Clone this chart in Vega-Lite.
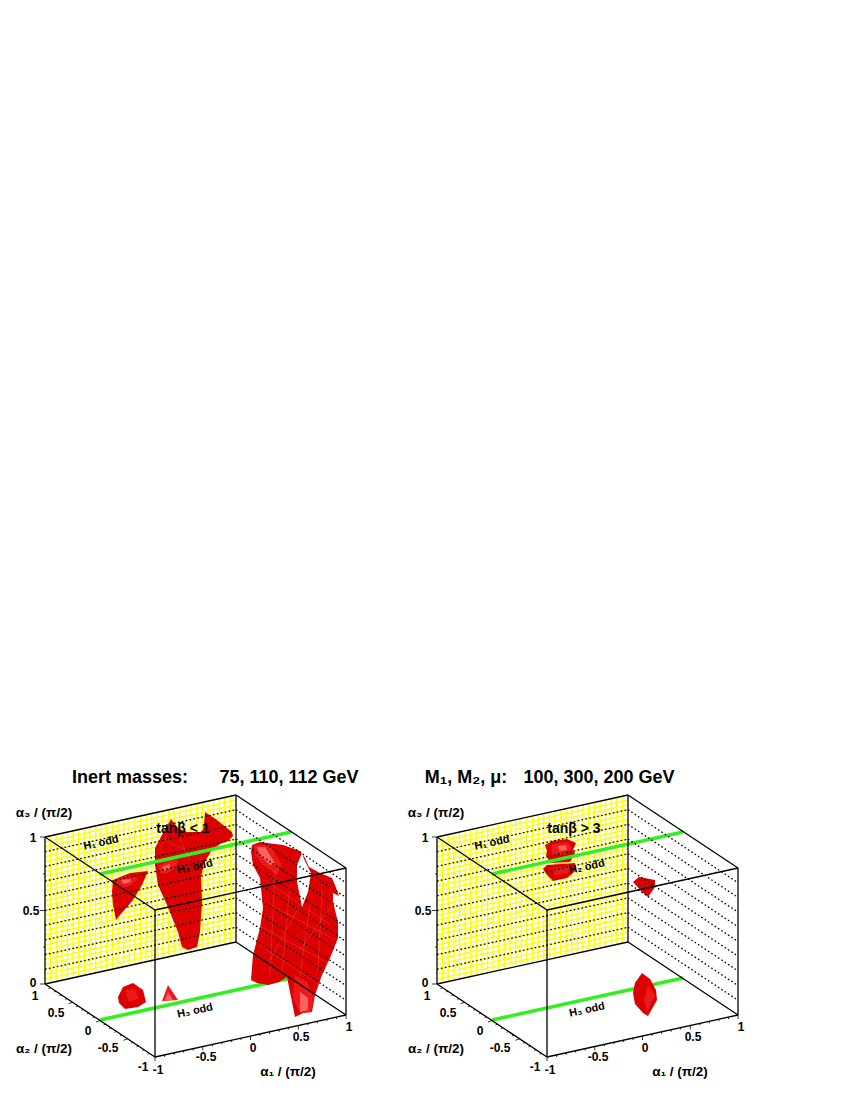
{"$schema":"https://vega.github.io/schema/vega-lite/v6.json","padding":0,"spacing":0,"bounds":"flush","background":"white","config":{"view":{"stroke":null},"concat":{"spacing":0},"text":{"font":"Liberation Sans","fontWeight":"bold"}},
"datasets":{
"yellow":[
{"x":45,"y":979.1,"x2":236,"y2":937.1},{"x":45,"y":974.2,"x2":236,"y2":932.2},{"x":45,"y":969.3,"x2":236,"y2":927.3},{"x":45,"y":964.4,"x2":236,"y2":922.4},{"x":45,"y":959.5,"x2":236,"y2":917.5},{"x":45,"y":954.6,"x2":236,"y2":912.6},{"x":45,"y":949.7,"x2":236,"y2":907.7},{"x":45,"y":944.8,"x2":236,"y2":902.8},{"x":45,"y":939.9,"x2":236,"y2":897.9},{"x":45,"y":935,"x2":236,"y2":893},{"x":45,"y":930.1,"x2":236,"y2":888.1},{"x":45,"y":925.2,"x2":236,"y2":883.2},{"x":45,"y":920.3,"x2":236,"y2":878.3},{"x":45,"y":915.4,"x2":236,"y2":873.4},{"x":45,"y":910.5,"x2":236,"y2":868.5},{"x":45,"y":905.6,"x2":236,"y2":863.6},{"x":45,"y":900.7,"x2":236,"y2":858.7},{"x":45,"y":895.8,"x2":236,"y2":853.8},{"x":45,"y":890.9,"x2":236,"y2":848.9},{"x":45,"y":886,"x2":236,"y2":844},{"x":45,"y":881.1,"x2":236,"y2":839.1},{"x":45,"y":876.2,"x2":236,"y2":834.2},{"x":45,"y":871.3,"x2":236,"y2":829.3},{"x":45,"y":866.4,"x2":236,"y2":824.4},{"x":45,"y":861.5,"x2":236,"y2":819.5},{"x":45,"y":856.6,"x2":236,"y2":814.6},{"x":45,"y":851.7,"x2":236,"y2":809.7},{"x":45,"y":846.8,"x2":236,"y2":804.8},{"x":45,"y":841.9,"x2":236,"y2":799.9},
{"x":50.6,"y":982.8,"x2":50.6,"y2":835.8},{"x":56.2,"y":981.5,"x2":56.2,"y2":834.5},{"x":61.9,"y":980.3,"x2":61.9,"y2":833.3},{"x":67.5,"y":979.1,"x2":67.5,"y2":832.1},{"x":73.1,"y":977.8,"x2":73.1,"y2":830.8},{"x":78.7,"y":976.6,"x2":78.7,"y2":829.6},{"x":84.3,"y":975.4,"x2":84.3,"y2":828.4},{"x":89.9,"y":974.1,"x2":89.9,"y2":827.1},{"x":95.6,"y":972.9,"x2":95.6,"y2":825.9},{"x":101.2,"y":971.6,"x2":101.2,"y2":824.6},{"x":106.8,"y":970.4,"x2":106.8,"y2":823.4},{"x":112.4,"y":969.2,"x2":112.4,"y2":822.2},{"x":118,"y":967.9,"x2":118,"y2":820.9},{"x":123.7,"y":966.7,"x2":123.7,"y2":819.7},{"x":129.3,"y":965.5,"x2":129.3,"y2":818.5},{"x":134.9,"y":964.2,"x2":134.9,"y2":817.2},{"x":140.5,"y":963,"x2":140.5,"y2":816},{"x":146.1,"y":961.8,"x2":146.1,"y2":814.8},{"x":151.7,"y":960.5,"x2":151.7,"y2":813.5},{"x":157.4,"y":959.3,"x2":157.4,"y2":812.3},{"x":163,"y":958.1,"x2":163,"y2":811.1},{"x":168.6,"y":956.8,"x2":168.6,"y2":809.8},{"x":174.2,"y":955.6,"x2":174.2,"y2":808.6},{"x":179.8,"y":954.4,"x2":179.8,"y2":807.4},{"x":185.5,"y":953.1,"x2":185.5,"y2":806.1},{"x":191.1,"y":951.9,"x2":191.1,"y2":804.9},{"x":196.7,"y":950.7,"x2":196.7,"y2":803.7},{"x":202.3,"y":949.4,"x2":202.3,"y2":802.4},{"x":207.9,"y":948.2,"x2":207.9,"y2":801.2},{"x":213.5,"y":947,"x2":213.5,"y2":800},{"x":219.2,"y":945.7,"x2":219.2,"y2":798.7},{"x":224.8,"y":944.5,"x2":224.8,"y2":797.5},{"x":230.4,"y":943.2,"x2":230.4,"y2":796.2}
],
"dotted":[
{"x":45,"y":969.3,"x2":236,"y2":927.3},{"x":45,"y":954.6,"x2":236,"y2":912.6},{"x":45,"y":939.9,"x2":236,"y2":897.9},{"x":45,"y":925.2,"x2":236,"y2":883.2},{"x":45,"y":910.5,"x2":236,"y2":868.5},{"x":45,"y":895.8,"x2":236,"y2":853.8},{"x":45,"y":881.1,"x2":236,"y2":839.1},{"x":45,"y":866.4,"x2":236,"y2":824.4},{"x":45,"y":851.7,"x2":236,"y2":809.7},
{"x":236,"y":927.3,"x2":346,"y2":1000.3},{"x":236,"y":912.6,"x2":346,"y2":985.6},{"x":236,"y":897.9,"x2":346,"y2":970.9},{"x":236,"y":883.2,"x2":346,"y2":956.2},{"x":236,"y":868.5,"x2":346,"y2":941.5},{"x":236,"y":853.8,"x2":346,"y2":926.8},{"x":236,"y":839.1,"x2":346,"y2":912.1},{"x":236,"y":824.4,"x2":346,"y2":897.4},{"x":236,"y":809.7,"x2":346,"y2":882.7}
],
"frame":[
{"x":45,"y":837,"x2":236,"y2":795},{"x":236,"y":795,"x2":346,"y2":868},{"x":346,"y":868,"x2":155,"y2":910},{"x":155,"y":910,"x2":45,"y2":837},
{"x":45,"y":984,"x2":236,"y2":942},{"x":236,"y":942,"x2":346,"y2":1015},{"x":346,"y":1015,"x2":155,"y2":1057},{"x":155,"y":1057,"x2":45,"y2":984},
{"x":45,"y":984,"x2":45,"y2":837},{"x":236,"y":942,"x2":236,"y2":795},{"x":346,"y":1015,"x2":346,"y2":868},{"x":155,"y":1057,"x2":155,"y2":910}
],
"ticks":[
{"x":45,"y":984,"x2":40,"y2":984},{"x":45,"y":947,"x2":43,"y2":947},{"x":45,"y":910.5,"x2":40,"y2":910.5},{"x":45,"y":874,"x2":43,"y2":874},{"x":45,"y":837,"x2":40,"y2":837},
{"x":155,"y":1057,"x2":155,"y2":1061},{"x":164.6,"y":1054.9,"x2":164.6,"y2":1056.9},{"x":174.1,"y":1052.8,"x2":174.1,"y2":1054.8},{"x":183.7,"y":1050.7,"x2":183.7,"y2":1052.7},{"x":193.2,"y":1048.6,"x2":193.2,"y2":1050.6},{"x":202.8,"y":1046.5,"x2":202.8,"y2":1050.5},{"x":212.3,"y":1044.4,"x2":212.3,"y2":1046.4},{"x":221.9,"y":1042.3,"x2":221.9,"y2":1044.3},{"x":231.4,"y":1040.2,"x2":231.4,"y2":1042.2},{"x":241,"y":1038.1,"x2":241,"y2":1040.1},{"x":250.5,"y":1036,"x2":250.5,"y2":1040},{"x":260.1,"y":1033.9,"x2":260.1,"y2":1035.9},{"x":269.6,"y":1031.8,"x2":269.6,"y2":1033.8},{"x":279.2,"y":1029.7,"x2":279.2,"y2":1031.7},{"x":288.7,"y":1027.6,"x2":288.7,"y2":1029.6},{"x":298.3,"y":1025.5,"x2":298.3,"y2":1029.5},{"x":307.8,"y":1023.4,"x2":307.8,"y2":1025.4},{"x":317.4,"y":1021.3,"x2":317.4,"y2":1023.3},{"x":326.9,"y":1019.2,"x2":326.9,"y2":1021.2},{"x":336.5,"y":1017.1,"x2":336.5,"y2":1019.1},{"x":346,"y":1015,"x2":346,"y2":1019},
{"x":149.5,"y":1053.4,"x2":147.5,"y2":1054.1},{"x":144,"y":1049.7,"x2":142,"y2":1050.4},{"x":138.5,"y":1046.1,"x2":136.5,"y2":1046.8},{"x":133,"y":1042.4,"x2":131,"y2":1043.1},{"x":127.5,"y":1038.8,"x2":123.5,"y2":1040.3},{"x":122,"y":1035.1,"x2":120,"y2":1035.8},{"x":116.5,"y":1031.5,"x2":114.5,"y2":1032.2},{"x":111,"y":1027.8,"x2":109,"y2":1028.5},{"x":105.5,"y":1024.2,"x2":103.5,"y2":1024.9},{"x":100,"y":1020.5,"x2":96,"y2":1022},{"x":94.5,"y":1016.9,"x2":92.5,"y2":1017.6},{"x":89,"y":1013.2,"x2":87,"y2":1013.9},{"x":83.5,"y":1009.6,"x2":81.5,"y2":1010.3},{"x":78,"y":1005.9,"x2":76,"y2":1006.6},{"x":72.5,"y":1002.3,"x2":68.5,"y2":1003.8},{"x":67,"y":998.6,"x2":65,"y2":999.3},{"x":61.5,"y":995,"x2":59.5,"y2":995.7},{"x":56,"y":991.3,"x2":54,"y2":992},{"x":50.5,"y":987.7,"x2":48.5,"y2":988.4}
],
"green":[{"plane":"floor","x":100,"y":1020,"x2":291,"y2":978},{"plane":"mid","x":100,"y":874,"x2":291,"y2":832}],
"tickLabels":[
{"x":33,"y":838,"t":"1"},{"x":31,"y":911,"t":"0.5"},{"x":33,"y":983,"t":"0"},
{"x":35,"y":996,"t":"1"},{"x":56,"y":1013,"t":"0.5"},{"x":88,"y":1031,"t":"0"},{"x":108,"y":1048,"t":"-0.5"},{"x":143,"y":1067,"t":"-1"},
{"x":158,"y":1070,"t":"-1"},{"x":206,"y":1057,"t":"-0.5"},{"x":253,"y":1048,"t":"0"},{"x":301,"y":1037,"t":"0.5"},{"x":349,"y":1027,"t":"1"}],
"axisTitles":[{"x":44,"y":813,"t":"α₃ / (π/2)"},{"x":44,"y":1049,"t":"α₂ / (π/2)"},{"x":288,"y":1072,"t":"α₁ / (π/2)"}],
"blobsL":[
{"s":"w","c":"base","x":113,"y":880},{"s":"w","c":"base","x":130,"y":873},{"s":"w","c":"base","x":148,"y":871},{"s":"w","c":"base","x":142,"y":885},{"s":"w","c":"base","x":133,"y":900},{"s":"w","c":"base","x":120,"y":915},{"s":"w","c":"base","x":116,"y":920},{"s":"w","c":"base","x":113,"y":905},{"s":"w","c":"base","x":112,"y":892},
{"s":"m","c":"base","x":171,"y":819},{"s":"m","c":"base","x":178,"y":828},{"s":"m","c":"base","x":187,"y":832},{"s":"m","c":"base","x":202,"y":832},{"s":"m","c":"base","x":204,"y":825},{"s":"m","c":"base","x":205,"y":812},{"s":"m","c":"base","x":217,"y":820},{"s":"m","c":"base","x":232,"y":832},{"s":"m","c":"base","x":233,"y":836},{"s":"m","c":"base","x":228,"y":841},{"s":"m","c":"base","x":220,"y":844},{"s":"m","c":"base","x":212,"y":850},{"s":"m","c":"base","x":204,"y":863},{"s":"m","c":"base","x":201,"y":877},{"s":"m","c":"base","x":202,"y":902},{"s":"m","c":"base","x":200,"y":932},{"s":"m","c":"base","x":197,"y":947},{"s":"m","c":"base","x":188,"y":950},{"s":"m","c":"base","x":182,"y":947},{"s":"m","c":"base","x":178,"y":932},{"s":"m","c":"base","x":167,"y":905},{"s":"m","c":"base","x":158,"y":885},{"s":"m","c":"base","x":155,"y":865},{"s":"m","c":"base","x":155,"y":848},{"s":"m","c":"base","x":162,"y":835},
{"s":"r","c":"base","x":252,"y":845},{"s":"r","c":"base","x":260,"y":842},{"s":"r","c":"base","x":283,"y":845},{"s":"r","c":"base","x":300,"y":851},{"s":"r","c":"base","x":305,"y":858},{"s":"r","c":"base","x":309,"y":867},{"s":"r","c":"base","x":320,"y":873},{"s":"r","c":"base","x":332,"y":878},{"s":"r","c":"base","x":335,"y":885},{"s":"r","c":"base","x":339,"y":896},{"s":"r","c":"base","x":333,"y":893},{"s":"r","c":"base","x":333,"y":902},{"s":"r","c":"base","x":338,"y":922},{"s":"r","c":"base","x":338,"y":938},{"s":"r","c":"base","x":330,"y":958},{"s":"r","c":"base","x":322,"y":975},{"s":"r","c":"base","x":315,"y":995},{"s":"r","c":"base","x":312,"y":1012},{"s":"r","c":"base","x":303,"y":1013},{"s":"r","c":"base","x":295,"y":1017},{"s":"r","c":"base","x":292,"y":1002},{"s":"r","c":"base","x":287,"y":977},{"s":"r","c":"base","x":279,"y":982},{"s":"r","c":"base","x":268,"y":985},{"s":"r","c":"base","x":257,"y":983},{"s":"r","c":"base","x":251,"y":980},{"s":"r","c":"base","x":253,"y":955},{"s":"r","c":"base","x":260,"y":928},{"s":"r","c":"base","x":263,"y":908},{"s":"r","c":"base","x":260,"y":878},{"s":"r","c":"base","x":253,"y":865},{"s":"r","c":"base","x":251,"y":852},
{"s":"h","c":"base","x":118,"y":997},{"s":"h","c":"base","x":123,"y":987},{"s":"h","c":"base","x":133,"y":983},{"s":"h","c":"base","x":143,"y":990},{"s":"h","c":"base","x":146,"y":1002},{"s":"h","c":"base","x":138,"y":1007},{"s":"h","c":"base","x":125,"y":1009},{"s":"h","c":"base","x":119,"y":1003},
{"s":"c","c":"mid","x":168,"y":985},{"s":"c","c":"mid","x":178,"y":1000},{"s":"c","c":"mid","x":162,"y":1001},
{"s":"w1","c":"mid","x":117,"y":879},{"s":"w1","c":"mid","x":130,"y":876},{"s":"w1","c":"mid","x":138,"y":878},{"s":"w1","c":"mid","x":132,"y":885},{"s":"w1","c":"mid","x":122,"y":888},{"s":"w1","c":"mid","x":116,"y":884},
{"s":"m1","c":"mid","x":158,"y":866},{"s":"m1","c":"mid","x":170,"y":860},{"s":"m1","c":"mid","x":178,"y":860},{"s":"m1","c":"mid","x":176,"y":868},{"s":"m1","c":"mid","x":166,"y":874},{"s":"m1","c":"mid","x":160,"y":873},
{"s":"r1","c":"mid","x":254,"y":845},{"s":"r1","c":"mid","x":270,"y":845},{"s":"r1","c":"mid","x":282,"y":865},{"s":"r1","c":"mid","x":277,"y":875},{"s":"r1","c":"mid","x":263,"y":865},{"s":"r1","c":"mid","x":255,"y":855},
{"s":"r2","c":"mid","x":295,"y":975},{"s":"r2","c":"mid","x":307,"y":982},{"s":"r2","c":"mid","x":314,"y":998},{"s":"r2","c":"mid","x":311,"y":1012},{"s":"r2","c":"mid","x":300,"y":1013},{"s":"r2","c":"mid","x":293,"y":998},
{"s":"h1","c":"mid","x":125,"y":990},{"s":"h1","c":"mid","x":135,"y":989},{"s":"h1","c":"mid","x":139,"y":998},{"s":"h1","c":"mid","x":129,"y":1002},
{"s":"w2","c":"light","x":121,"y":880},{"s":"w2","c":"light","x":130,"y":879},{"s":"w2","c":"light","x":131,"y":882},{"s":"w2","c":"light","x":123,"y":884},
{"s":"m2","c":"light","x":162,"y":867},{"s":"m2","c":"light","x":170,"y":864},{"s":"m2","c":"light","x":170,"y":868},{"s":"m2","c":"light","x":164,"y":871},
{"s":"r3","c":"light","x":257,"y":847},{"s":"r3","c":"light","x":265,"y":847},{"s":"r3","c":"light","x":275,"y":863},{"s":"r3","c":"light","x":270,"y":865},{"s":"r3","c":"light","x":260,"y":855},
{"s":"r4","c":"light","x":300,"y":992},{"s":"r4","c":"light","x":308,"y":998},{"s":"r4","c":"light","x":308,"y":1010},{"s":"r4","c":"light","x":300,"y":1012},
{"s":"c1","c":"light","x":168,"y":992},{"s":"c1","c":"light","x":173,"y":1000},{"s":"c1","c":"light","x":165,"y":1000},
{"s":"gap","c":"gap","x":302,"y":853},{"s":"gap","c":"gap","x":297,"y":865},{"s":"gap","c":"gap","x":297,"y":882},{"s":"gap","c":"gap","x":302,"y":907},{"s":"gap","c":"gap","x":308,"y":892},{"s":"gap","c":"gap","x":311,"y":873},{"s":"gap","c":"gap","x":308,"y":867},{"s":"gap","c":"gap","x":304,"y":859}
],
"blobsR":[
{"s":"t","c":"base","x":153,"y":845},{"s":"t","c":"base","x":160,"y":841},{"s":"t","c":"base","x":175,"y":839},{"s":"t","c":"base","x":184,"y":843},{"s":"t","c":"base","x":181,"y":850},{"s":"t","c":"base","x":183,"y":853},{"s":"t","c":"base","x":178,"y":862},{"s":"t","c":"base","x":158,"y":863},{"s":"t","c":"base","x":154,"y":855},{"s":"t","c":"base","x":155,"y":851},
{"s":"l","c":"base","x":151,"y":869},{"s":"l","c":"base","x":155,"y":865},{"s":"l","c":"base","x":183,"y":863},{"s":"l","c":"base","x":184,"y":870},{"s":"l","c":"base","x":181,"y":873},{"s":"l","c":"base","x":175,"y":878},{"s":"l","c":"base","x":161,"y":881},{"s":"l","c":"base","x":155,"y":875},
{"s":"s","c":"base","x":241,"y":882},{"s":"s","c":"base","x":247,"y":877},{"s":"s","c":"base","x":263,"y":880},{"s":"s","c":"base","x":263,"y":887},{"s":"s","c":"base","x":256,"y":897},{"s":"s","c":"base","x":250,"y":892},
{"s":"e","c":"base","x":250,"y":973},{"s":"e","c":"base","x":258,"y":979},{"s":"e","c":"base","x":264,"y":990},{"s":"e","c":"base","x":265,"y":1000},{"s":"e","c":"base","x":256,"y":1016},{"s":"e","c":"base","x":251,"y":1013},{"s":"e","c":"base","x":243,"y":1004},{"s":"e","c":"base","x":241,"y":993},{"s":"e","c":"base","x":243,"y":983},
{"s":"t1","c":"mid","x":160,"y":844},{"s":"t1","c":"mid","x":176,"y":842},{"s":"t1","c":"mid","x":180,"y":848},{"s":"t1","c":"mid","x":174,"y":855},{"s":"t1","c":"mid","x":160,"y":855},
{"s":"l1","c":"mid","x":160,"y":868},{"s":"l1","c":"mid","x":178,"y":866},{"s":"l1","c":"mid","x":176,"y":873},{"s":"l1","c":"mid","x":163,"y":875},
{"s":"e1","c":"mid","x":256,"y":985},{"s":"e1","c":"mid","x":263,"y":995},{"s":"e1","c":"mid","x":255,"y":1012},{"s":"e1","c":"mid","x":252,"y":1000},
{"s":"t2","c":"light","x":166,"y":846},{"s":"t2","c":"light","x":174,"y":845},{"s":"t2","c":"light","x":175,"y":850},{"s":"t2","c":"light","x":167,"y":851}
],
"mesh":[
{"x":265,"y":880,"x2":330,"y2":925},{"x":262,"y":900,"x2":335,"y2":940},{"x":258,"y":925,"x2":332,"y2":965},{"x":260,"y":945,"x2":320,"y2":985},{"x":275,"y":870,"x2":270,"y2":975},{"x":290,"y":885,"x2":282,"y2":972},{"x":310,"y":905,"x2":300,"y2":975},{"x":322,"y":890,"x2":318,"y2":970},{"x":270,"y":960,"x2":300,"y2":905},{"x":300,"y":950,"x2":332,"y2":905},{"x":170,"y":825,"x2":160,"y2":850},{"x":178,"y":835,"x2":190,"y2":860},{"x":165,"y":840,"x2":185,"y2":850}
]
},
"hconcat":[
{"width":392,"height":1093,
"encoding":{"x":{"field":"x","type":"quantitative","axis":null,"scale":{"domain":[0,392],"nice":false,"zero":false}},"y":{"field":"y","type":"quantitative","axis":null,"scale":{"domain":[1093,0],"nice":false,"zero":false}}},
"layer":[
{"data":{"name":"yellow"},"mark":{"type":"rule","color":"#ffff00","strokeWidth":1.3},"encoding":{"x2":{"field":"x2"},"y2":{"field":"y2"}}},
{"data":{"name":"green"},"transform":[{"filter":"datum.plane==='floor'"}],"mark":{"type":"rule","color":"#32f020","strokeWidth":3.6},"encoding":{"x2":{"field":"x2"},"y2":{"field":"y2"}}},
{"data":{"name":"blobsL"},"mark":{"type":"line","interpolate":"linear-closed","filled":true,"strokeWidth":0},"encoding":{"detail":{"field":"s"},"order":{"value":null},"color":{"field":"c","legend":null,"scale":{"domain":["base","mid","light","gap"],"range":["#dc0000","#ea1a1a","#ff6060","#ffffff"]}}}},
{"data":{"name":"green"},"transform":[{"filter":"datum.plane==='mid'"}],"mark":{"type":"rule","color":"#32f020","strokeWidth":3.6},"encoding":{"x2":{"field":"x2"},"y2":{"field":"y2"}}},
{"data":{"name":"mesh"},"mark":{"type":"rule","color":"#ffffff","strokeWidth":0.7,"opacity":0.2},"encoding":{"x2":{"field":"x2"},"y2":{"field":"y2"}}},
{"data":{"name":"dotted"},"mark":{"type":"rule","color":"#000000","strokeWidth":1.3,"strokeDash":[1.6,2.4]},"encoding":{"x2":{"field":"x2"},"y2":{"field":"y2"}}},
{"data":{"name":"frame"},"mark":{"type":"rule","color":"#000000","strokeWidth":1.3},"encoding":{"x2":{"field":"x2"},"y2":{"field":"y2"}}},
{"data":{"name":"ticks"},"mark":{"type":"rule","color":"#000000","strokeWidth":0.8},"encoding":{"x2":{"field":"x2"},"y2":{"field":"y2"}}},
{"data":{"name":"tickLabels"},"mark":{"type":"text","fontSize":12,"font":"Liberation Sans","fontWeight":"bold"},"encoding":{"text":{"field":"t"}}},
{"data":{"name":"axisTitles"},"mark":{"type":"text","fontSize":13.5,"font":"Liberation Sans","fontWeight":"bold"},"encoding":{"text":{"field":"t"}}},
{"data":{"values":[{"x":101,"y":843,"t":"H₁ odd"},{"x":195,"y":867,"t":"H₂ odd"},{"x":195,"y":1011,"t":"H₃ odd"}]},"mark":{"type":"text","fontSize":11,"angle":348,"font":"Liberation Sans","fontWeight":"bold"},"encoding":{"text":{"field":"t"}}},
{"data":{"values":[{"x":183,"y":829,"t":"tanβ <  1"}]},"mark":{"type":"text","fontSize":14,"font":"Liberation Sans","fontWeight":"bold"},"encoding":{"text":{"field":"t"}}},
{"data":{"values":[{"x":130,"y":778,"t":"Inert masses:"},{"x":289,"y":778,"t":"75, 110, 112  GeV"}]},"mark":{"type":"text","fontSize":18,"font":"Liberation Sans","fontWeight":"bold"},"encoding":{"text":{"field":"t"}}}
]},
{"width":453,"height":1093,
"encoding":{"x":{"field":"x","type":"quantitative","axis":null,"scale":{"domain":[0,453],"nice":false,"zero":false}},"y":{"field":"y","type":"quantitative","axis":null,"scale":{"domain":[1093,0],"nice":false,"zero":false}}},
"layer":[
{"data":{"name":"yellow"},"mark":{"type":"rule","color":"#ffff00","strokeWidth":1.3},"encoding":{"x2":{"field":"x2"},"y2":{"field":"y2"}}},
{"data":{"name":"green"},"transform":[{"filter":"datum.plane==='floor'"}],"mark":{"type":"rule","color":"#32f020","strokeWidth":3.6},"encoding":{"x2":{"field":"x2"},"y2":{"field":"y2"}}},
{"data":{"name":"blobsR"},"mark":{"type":"line","interpolate":"linear-closed","filled":true,"strokeWidth":0},"encoding":{"detail":{"field":"s"},"order":{"value":null},"color":{"field":"c","legend":null,"scale":{"domain":["base","mid","light","gap"],"range":["#dc0000","#ea1a1a","#ff6060","#ffffff"]}}}},
{"data":{"name":"green"},"transform":[{"filter":"datum.plane==='mid'"}],"mark":{"type":"rule","color":"#32f020","strokeWidth":3.6},"encoding":{"x2":{"field":"x2"},"y2":{"field":"y2"}}},
{"data":{"name":"dotted"},"mark":{"type":"rule","color":"#000000","strokeWidth":1.3,"strokeDash":[1.6,2.4]},"encoding":{"x2":{"field":"x2"},"y2":{"field":"y2"}}},
{"data":{"name":"frame"},"mark":{"type":"rule","color":"#000000","strokeWidth":1.3},"encoding":{"x2":{"field":"x2"},"y2":{"field":"y2"}}},
{"data":{"name":"ticks"},"mark":{"type":"rule","color":"#000000","strokeWidth":0.8},"encoding":{"x2":{"field":"x2"},"y2":{"field":"y2"}}},
{"data":{"name":"tickLabels"},"mark":{"type":"text","fontSize":12,"font":"Liberation Sans","fontWeight":"bold"},"encoding":{"text":{"field":"t"}}},
{"data":{"name":"axisTitles"},"mark":{"type":"text","fontSize":13.5,"font":"Liberation Sans","fontWeight":"bold"},"encoding":{"text":{"field":"t"}}},
{"data":{"values":[{"x":100,"y":843,"t":"H₁ odd"},{"x":195,"y":867,"t":"H₂ odd"},{"x":195,"y":1010,"t":"H₃ odd"}]},"mark":{"type":"text","fontSize":11,"angle":348,"font":"Liberation Sans","fontWeight":"bold"},"encoding":{"text":{"field":"t"}}},
{"data":{"values":[{"x":182,"y":829,"t":"tanβ >  3"}]},"mark":{"type":"text","fontSize":14,"font":"Liberation Sans","fontWeight":"bold"},"encoding":{"text":{"field":"t"}}},
{"data":{"values":[{"x":74,"y":778,"t":"M₁,   M₂,   μ:"},{"x":207,"y":778,"t":"100, 300, 200 GeV"}]},"mark":{"type":"text","fontSize":18,"font":"Liberation Sans","fontWeight":"bold"},"encoding":{"text":{"field":"t"}}}
]}
]}
